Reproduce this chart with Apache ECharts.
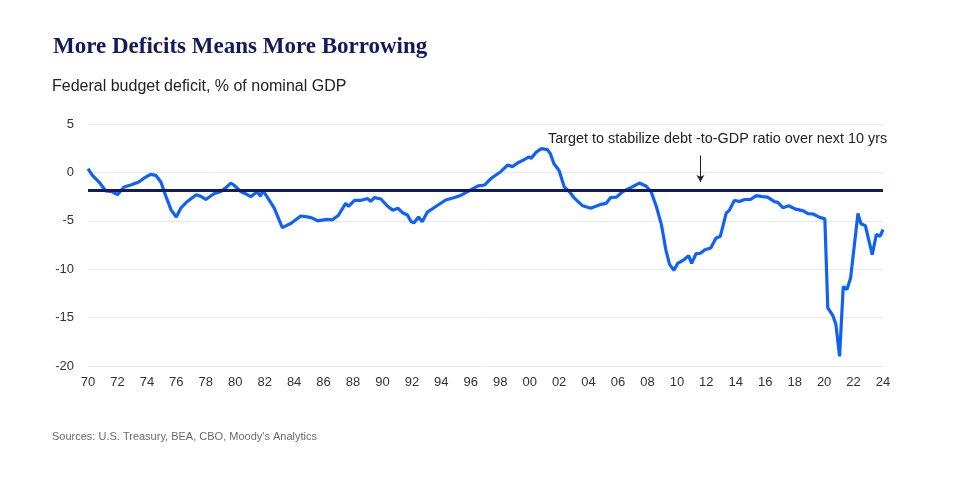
<!DOCTYPE html>
<html><head><meta charset="utf-8">
<script src="https://cdn.jsdelivr.net/npm/echarts@6/dist/echarts.min.js"></script>
<style>html,body{margin:0;padding:0;background:#fff}#c{width:960px;height:480px}</style>
</head><body><div id="c"></div>
<script>
const titleText = 'More Deficits Means More Borrowing';
const subtitleText = 'Federal budget deficit, % of nominal GDP';
const sourceText = "Sources: U.S. Treasury, BEA, CBO, Moody's Analytics";
const annotationText = 'Target to stabilize debt -to-GDP ratio over next 10 yrs';
const targetValue = -1.85;
const arrowYear = 2011.6;
const yTicks = [-20, -15, -10, -5, 0, 5];
const years = [1970.0,1970.3,1970.75,1971.2,1971.65,1972.0,1972.45,1972.9,1973.45,1973.8,1974.25,1974.6,1974.95,1975.3,1975.65,1976.0,1976.3,1976.75,1977.35,1977.7,1978.0,1978.55,1979.0,1979.35,1979.7,1979.9,1980.4,1980.7,1981.05,1981.5,1981.7,1981.9,1982.2,1982.65,1983.2,1983.8,1984.45,1984.9,1985.2,1985.6,1986.25,1986.6,1987.0,1987.5,1987.7,1988.1,1988.5,1989.0,1989.2,1989.45,1989.9,1990.35,1990.7,1991.05,1991.4,1991.7,1991.95,1992.15,1992.45,1992.7,1993.05,1993.65,1994.3,1994.9,1995.35,1996.0,1996.5,1996.95,1997.4,1998.05,1998.5,1998.85,1999.2,1999.6,1999.95,2000.1,2000.45,2000.8,2001.2,2001.4,2001.65,2002.0,2002.35,2002.7,2003.0,2003.6,2004.15,2004.85,2005.2,2005.5,2005.9,2006.3,2006.9,2007.45,2007.9,2008.25,2008.6,2008.95,2009.25,2009.5,2009.8,2010.05,2010.5,2010.8,2011.0,2011.3,2011.6,2011.9,2012.3,2012.65,2012.95,2013.35,2013.55,2013.9,2014.25,2014.6,2015.0,2015.4,2015.8,2016.15,2016.6,2016.85,2017.2,2017.6,2018.05,2018.55,2018.9,2019.25,2019.7,2020.05,2020.25,2020.6,2020.8,2021.05,2021.3,2021.55,2021.8,2022.3,2022.5,2022.8,2023.27,2023.55,2023.8,2024.0];
const deficit = [0.4,-0.3,-1.0,-1.9,-2.0,-2.3,-1.5,-1.3,-1.0,-0.6,-0.2,-0.3,-1.0,-2.5,-3.9,-4.6,-3.7,-3.0,-2.3,-2.5,-2.8,-2.2,-2.0,-1.6,-1.1,-1.3,-2.0,-2.2,-2.5,-2.0,-2.45,-1.9,-2.6,-3.7,-5.7,-5.25,-4.5,-4.6,-4.7,-5.0,-4.85,-4.9,-4.45,-3.2,-3.5,-2.9,-2.9,-2.7,-3.0,-2.6,-2.75,-3.5,-3.9,-3.7,-4.2,-4.4,-5.1,-5.2,-4.6,-5.1,-4.1,-3.5,-2.85,-2.6,-2.35,-1.8,-1.4,-1.3,-0.6,0.1,0.75,0.6,1.0,1.3,1.6,1.45,2.1,2.45,2.35,1.95,0.9,0.2,-1.5,-2.0,-2.6,-3.45,-3.7,-3.3,-3.2,-2.6,-2.55,-2.0,-1.55,-1.1,-1.4,-2.0,-3.5,-5.4,-8.0,-9.5,-10.1,-9.4,-9.0,-8.6,-9.4,-8.4,-8.35,-8.0,-7.8,-6.8,-6.6,-4.2,-3.95,-2.9,-3.0,-2.8,-2.8,-2.4,-2.5,-2.55,-3.0,-3.1,-3.65,-3.45,-3.8,-3.95,-4.25,-4.3,-4.65,-4.8,-14.0,-14.8,-15.7,-19.0,-11.8,-12.1,-10.9,-4.25,-5.3,-5.5,-8.5,-6.4,-6.6,-5.9];

const chart = echarts.init(document.getElementById('c'), null, {renderer:'canvas'});
chart.setOption({
  backgroundColor:'#fff',
  animation:false,
  title:[
    {text:titleText,left:48,top:31,textStyle:{fontFamily:'Liberation Serif',fontWeight:'bold',fontSize:23,color:'#14195a'}},
    {text:subtitleText,left:47,top:74,textStyle:{fontFamily:'Liberation Sans',fontWeight:'normal',fontSize:16,color:'#222'}},
    {text:sourceText,left:47,top:426,textStyle:{fontFamily:'Liberation Sans',fontWeight:'normal',fontSize:11,color:'#6a6a6a'}}
  ],
  grid:{left:88,right:77,top:124,bottom:114,containLabel:false},
  xAxis:{type:'value',min:1970,max:2024,interval:2,
    axisLine:{show:false},axisTick:{show:false},splitLine:{show:false},
    axisLabel:{margin:10,fontFamily:'Liberation Sans',fontSize:13,color:'#333',
      formatter:v=>String(Math.round(v)%100).padStart(2,'0')}},
  yAxis:{type:'value',min:yTicks[0],max:yTicks[yTicks.length-1],interval:5,
    axisLine:{show:false},axisTick:{show:false},
    splitLine:{lineStyle:{color:'#e8e8e8',width:1}},
    axisLabel:{margin:14,fontFamily:'Liberation Sans',fontSize:13,color:'#333'}},
  series:[
    {type:'line',data:years.map((y,i)=>[y,deficit[i]]),showSymbol:false,smooth:false,
     lineStyle:{color:'#0f62f5',width:3.2},z:3,
     markLine:{silent:true,symbol:['none','none'],label:{show:false},
       lineStyle:{color:'#121a5e',width:3,type:'solid'},
       data:[{yAxis:targetValue}]}},
    {type:'line',data:[],z:4,
     markLine:{silent:true,symbol:['none','arrow'],symbolSize:[6,7],label:{show:false},
       lineStyle:{color:'#222',width:1,type:'solid'},
       data:[[{coord:[arrowYear,1.75]},{coord:[arrowYear,-1.0]}]]}}
  ],
  graphic:[
    {type:'text',left:548,top:132,style:{text:annotationText,fontFamily:'Liberation Sans',fontSize:14.4,fill:'#222'}}
  ]
});
</script></body></html>
